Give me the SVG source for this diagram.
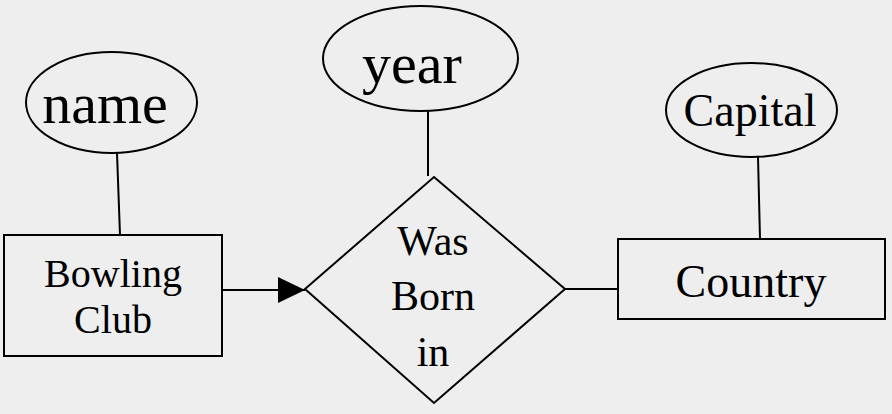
<svg xmlns="http://www.w3.org/2000/svg" width="892" height="414" viewBox="0 0 892 414">
<style>
.s{fill:none;stroke:#000;stroke-width:2}
.t{font-family:"Liberation Serif","Times New Roman",serif;fill:#000;text-anchor:middle}
</style>
<defs>
<marker id="arr" markerUnits="userSpaceOnUse" markerWidth="28" markerHeight="28" refX="27" refY="13" orient="auto">
<path d="M0,0 L27,13 L0,26 Z" fill="#000"/>
</marker>
</defs>
<rect width="892" height="414" fill="#eeeeee"/>
<g id="connectors">
<line class="s" x1="117" y1="153" x2="120" y2="235"/>
<line class="s" x1="428" y1="111" x2="428" y2="176"/>
<line class="s" x1="758" y1="157" x2="760" y2="239"/>
<line class="s" x1="222" y1="290" x2="305" y2="290" marker-end="url(#arr)"/>
<line class="s" x1="565" y1="289" x2="618" y2="289"/>
</g>
<g id="name">
<ellipse class="s" cx="111.5" cy="102.5" rx="85.5" ry="50.5"/>
<text class="t" x="105" y="123" font-size="58">name</text>
</g>
<g id="year">
<ellipse class="s" cx="420.5" cy="58.5" rx="97.5" ry="52.5"/>
<text class="t" x="412" y="83" font-size="58">year</text>
</g>
<g id="capital">
<ellipse class="s" cx="751.5" cy="110" rx="85.5" ry="47"/>
<text class="t" x="750" y="126" font-size="46">Capital</text>
</g>
<g id="bowling-club">
<rect class="s" x="4" y="235" width="218" height="121"/>
<text class="t" x="113" y="287" font-size="40">Bowling</text>
<text class="t" x="113" y="333" font-size="40">Club</text>
</g>
<g id="was-born-in">
<polygon class="s" points="434,177 565,289 434,403 305,289"/>
<text class="t" x="433" y="255" font-size="42">Was</text>
<text class="t" x="433" y="310" font-size="42">Born</text>
<text class="t" x="433" y="366" font-size="42">in</text>
</g>
<g id="country">
<rect class="s" x="618" y="239" width="267" height="80"/>
<text class="t" x="751" y="297" font-size="46">Country</text>
</g>
</svg>
